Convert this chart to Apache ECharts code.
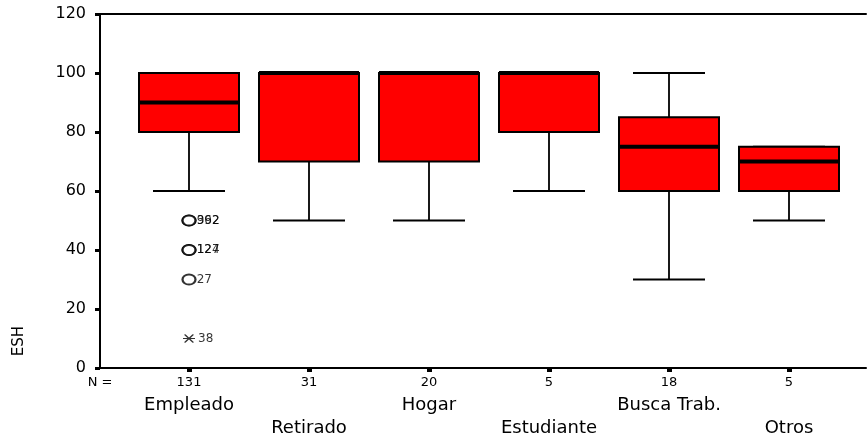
<!DOCTYPE html>
<html>
<head>
<meta charset="utf-8">
<script src="https://cdn.jsdelivr.net/npm/echarts@6/dist/echarts.min.js"></script>
<style>
  html, body { margin: 0; padding: 0; background: #fff; }
  #chart { width: 867px; height: 440px; }
</style>
</head>
<body>
<div id="chart"></div>
<script>
// ---- data ----
const categories   = ['Empleado', 'Retirado', 'Hogar', 'Estudiante', 'Busca Trab.', 'Otros'];
const counts       = [131, 31, 20, 5, 18, 5];
const whiskerLow   = [60, 50, 50, 60, 30, 50];
const q1           = [80, 70, 70, 80, 60, 60];
const median       = [90, 100, 100, 100, 75, 70];
const q3           = [100, 100, 100, 100, 85, 75];
const whiskerHigh  = [100, 100, 100, 100, 100, 75];
// outliers (all in "Empleado", category position 1)
const outlierValues = [50, 50, 40, 40, 30];
const outlierLabels = ['362', '992', '124', '127', '27'];
const extremeValues = [10];
const extremeLabels = ['38'];
const yTicks = [0, 20, 40, 60, 80, 100, 120];

// ---- layout ----
const positions = categories.map((c, i) => i + 1);
const XMIN = 1 - 89 / 120;
const XMAX = 1 + 677 / 120;
const FONT = 'DejaVu Sans';

const boxData = categories.map((c, i) => [positions[i], whiskerLow[i], q1[i], median[i], q3[i], whiskerHigh[i]]);
const outlierData = outlierValues.map((v, i) => ({ value: [1, v], label: { formatter: outlierLabels[i] } }));
const extremeData = extremeValues.map((v, i) => ({ value: [1, v], label: { formatter: extremeLabels[i] } }));

const chart = echarts.init(document.getElementById('chart'), null, { renderer: 'canvas' });

function renderBox(params, api) {
  const x = api.value(0);
  const pMin = api.coord([x, api.value(1)]);
  const pQ1 = api.coord([x, api.value(2)]);
  const pMd = api.coord([x, api.value(3)]);
  const pQ3 = api.coord([x, api.value(4)]);
  const pMax = api.coord([x, api.value(5)]);
  const unit = api.size([1, 0])[0];
  const bw = unit * 100 / 120;
  const cw = unit * 72 / 120;
  const cx = pQ1[0];
  const lineStyle = { stroke: '#000', lineWidth: 1.8 };
  return {
    type: 'group',
    children: [
      { type: 'line', shape: { x1: cx, y1: pQ1[1], x2: cx, y2: pMin[1] }, style: lineStyle },
      { type: 'line', shape: { x1: cx, y1: pQ3[1], x2: cx, y2: pMax[1] }, style: lineStyle },
      { type: 'line', shape: { x1: cx - cw / 2, y1: pMin[1], x2: cx + cw / 2, y2: pMin[1] }, style: lineStyle },
      { type: 'line', shape: { x1: cx - cw / 2, y1: pMax[1], x2: cx + cw / 2, y2: pMax[1] }, style: lineStyle },
      { type: 'rect', shape: { x: cx - bw / 2, y: pQ3[1], width: bw, height: pQ1[1] - pQ3[1] },
        style: { fill: '#ff0000', stroke: '#000', lineWidth: 2 } },
      { type: 'line', shape: { x1: cx - bw / 2, y1: pMd[1], x2: cx + bw / 2, y2: pMd[1] },
        style: { stroke: '#000', lineWidth: 4 } }
    ]
  };
}

const hiddenAxisBase = {
  type: 'value', min: XMIN, max: XMAX, gridIndex: 0,
  splitLine: { show: false }, axisTick: { show: false }
};

const option = {
  backgroundColor: '#fff',
  animation: false,
  grid: { left: 100, right: 1, top: 14, bottom: 72, containLabel: false, outerBoundsMode: 'none' },
  xAxis: [
    {
      type: 'value', min: XMIN, max: XMAX, position: 'bottom',
      splitLine: { show: false },
      axisLine: { show: true, onZero: false, lineStyle: { color: '#000', width: 2 } },
      axisTick: { show: true, customValues: positions, length: 4, lineStyle: { color: '#000', width: 5 } },
      axisLabel: {
        customValues: [XMIN].concat(positions),
        formatter: v => (Math.abs(v - XMIN) < 1e-6 ? 'N =' : String(counts[Math.round(v) - 1])),
        fontFamily: FONT, fontSize: 13, color: '#000', margin: 8
      }
    },
    Object.assign({}, hiddenAxisBase, {
      position: 'bottom', axisLine: { show: false, onZero: false },
      axisLabel: {
        customValues: positions.filter(p => p % 2 === 1),
        formatter: v => categories[Math.round(v) - 1],
        fontFamily: FONT, fontSize: 18, color: '#000', margin: 28
      }
    }),
    Object.assign({}, hiddenAxisBase, {
      position: 'bottom', axisLine: { show: false, onZero: false },
      axisLabel: {
        customValues: positions.filter(p => p % 2 === 0),
        formatter: v => categories[Math.round(v) - 1],
        fontFamily: FONT, fontSize: 18, color: '#000', margin: 51
      }
    }),
    Object.assign({}, hiddenAxisBase, {
      position: 'top', axisLine: { show: true, onZero: false, lineStyle: { color: '#000', width: 2 } },
      axisLabel: { show: false }
    })
  ],
  yAxis: {
    type: 'value', min: yTicks[0], max: yTicks[yTicks.length - 1], interval: 20,
    splitLine: { show: false },
    axisLine: { show: true, lineStyle: { color: '#000', width: 2 } },
    axisTick: { show: true, length: 5, lineStyle: { color: '#000', width: 3 } },
    axisLabel: { fontFamily: FONT, fontSize: 16, color: '#000', margin: 14 }
  },
  graphic: [
    { type: 'text', x: 19, y: 341, rotation: Math.PI / 2,
      style: { text: 'ESH', font: '15px "DejaVu Sans"', fill: '#000', align: 'center', verticalAlign: 'middle' } }
  ],
  series: [
    {
      type: 'custom', xAxisIndex: 0, yAxisIndex: 0,
      renderItem: renderBox,
      data: boxData,
      encode: { x: 0, y: [1, 2, 3, 4, 5] },
      clip: false
    },
    {
      type: 'scatter', xAxisIndex: 0, yAxisIndex: 0,
      symbol: 'emptyCircle', symbolSize: [13, 10],
      itemStyle: { color: '#000', borderColor: '#000', borderWidth: 1.5 },
      label: { show: true, position: 'right', distance: 0, fontFamily: FONT, fontSize: 12, color: '#000' },
      data: outlierData
    },
    {
      type: 'scatter', xAxisIndex: 0, yAxisIndex: 0,
      symbol: 'path://M0,0L10,7M10,0L0,7M-2,3.5L12,3.5', symbolSize: [12, 8],
      itemStyle: { color: 'none', borderColor: '#000', borderWidth: 1.5 },
      label: { show: true, position: 'right', distance: 0, fontFamily: FONT, fontSize: 12, color: '#000' },
      data: extremeData
    }
  ]
};

chart.setOption(option);
</script>
</body>
</html>
